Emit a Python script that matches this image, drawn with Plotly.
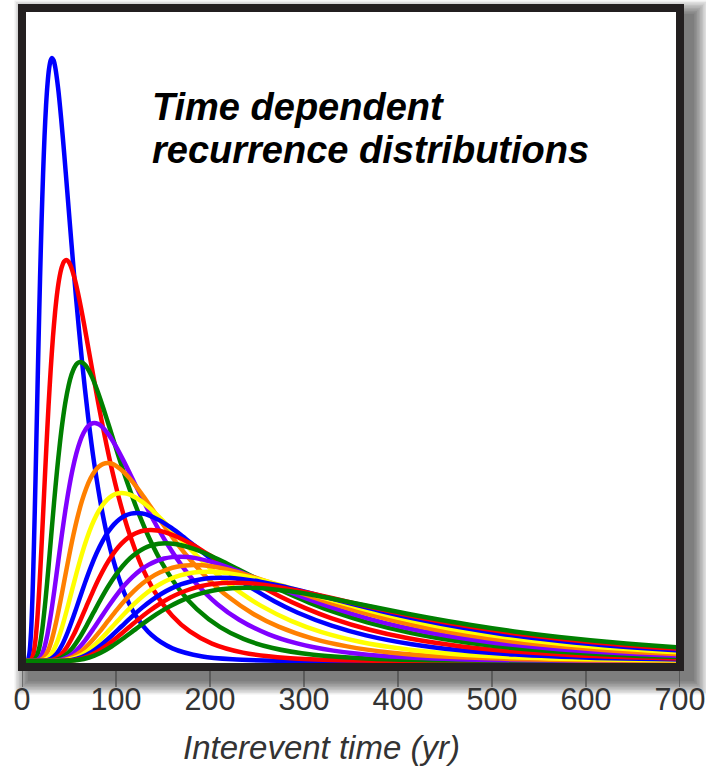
import plotly.graph_objects as go

# ---- data ----
# common curve shape: time as a fraction of the curve's peak time, and height as a fraction of its peak height
shape_ratio = [0.0, 0.1, 0.15, 0.2, 0.25, 0.3, 0.35, 0.4, 0.45, 0.5, 0.55, 0.6, 0.65, 0.7, 0.75,
               0.8, 0.85, 0.9, 0.95, 1.0, 1.05, 1.1, 1.2, 1.3, 1.4, 1.5, 1.65, 1.8, 2.0, 2.2, 2.4,
               2.7, 3.0, 3.4, 3.8, 4.3, 5.0, 6.0, 7.0, 8.5, 10.0, 12.0, 16.0, 24.0]
shape_rel = [0.0, 0.0, 0.0001, 0.002, 0.0138, 0.0475, 0.1096, 0.1977, 0.3035, 0.4171, 0.5296,
             0.6347, 0.7278, 0.8071, 0.8715, 0.9215, 0.958, 0.9823, 0.9958, 1.0, 0.9963, 0.986,
             0.9502, 0.9006, 0.843, 0.7817, 0.6891, 0.6007, 0.4946, 0.4038, 0.328, 0.2388, 0.1734,
             0.113, 0.0738, 0.0435, 0.021, 0.0075, 0.0028, 0.0006, 0.00015, 0.00002, 0.0, 0.0]

# peak time (yr) and peak height (relative density) of each of the 15 curves
curve_mode = [32, 47, 62, 77, 91, 106, 122, 137, 153, 168, 183, 198, 212, 225, 238]
curve_peak = [603, 401, 299, 238, 198, 168, 148, 131, 117.7, 104.3, 96, 89.3, 83.3, 78.3, 73.3]
curve_color = ["#0000ff", "#ff0000", "#008000", "#8000ff", "#ff8000", "#ffff00",
               "#0000ff", "#ff0000", "#008000", "#8000ff", "#ff8000", "#ffff00",
               "#0000ff", "#ff0000", "#008000"]

x_ticks = [0, 100, 200, 300, 400, 500, 600, 700]
x_title = "Interevent time (yr)"
title_lines = ["Time dependent", "recurrence distributions"]

# ---- figure ----
W, H = 706, 768
ML, MR, MT, MB = 22, 26, 8, 101
PW, PH = W - ML - MR, H - MT - MB


def px_x(p):
    return (p - ML) / PW


def px_y(p):
    return (H - MB - p) / PH


fig = go.Figure()
for m, pk, c in zip(curve_mode, curve_peak, curve_color):
    fig.add_trace(go.Scatter(
        x=[r * m for r in shape_ratio],
        y=[h * pk for h in shape_rel],
        mode="lines",
        line=dict(color=c, width=4.5, shape="spline", smoothing=0.8),
        hoverinfo="skip",
        showlegend=False,
    ))

shapes = []
# soft drop shadow (bottom/right of the frame)
fx0, fx1, fy0, fy1 = 18, 684, 4, 671
off = 10
n = 10
for i in range(n):
    s = 1.5 * i
    shapes.append(dict(type="rect", xref="paper", yref="paper",
                       x0=px_x(fx0 + off - s), x1=px_x(fx1 + off + s),
                       y0=px_y(fy1 + off + s), y1=px_y(fy0 + off - s),
                       fillcolor="rgba(0,0,0,0.065)", line=dict(width=0), layer="below"))
# white plot interior
shapes.append(dict(type="rect", xref="paper", yref="paper", x0=0, x1=1, y0=0, y1=1,
                   fillcolor="white", line=dict(width=0), layer="below"))
# tick marks below the frame, at the tick values
for v in x_ticks:
    shapes.append(dict(type="line", xref="x", yref="paper", x0=v, x1=v,
                       y0=px_y(670), y1=px_y(687),
                       line=dict(color="#444444", width=1.2), layer="above"))
# thick frame
shapes.append(dict(type="rect", xref="paper", yref="paper", x0=0, x1=1, y0=0, y1=1,
                   line=dict(color="#231f20", width=8), fillcolor="rgba(0,0,0,0)", layer="above"))

annotations = [
    dict(text="<b><i>%s</i></b>" % title_lines[0], xref="paper", yref="paper",
         x=px_x(150), y=px_y(107), xanchor="left", yanchor="middle", showarrow=False,
         font=dict(family="Liberation Sans, Arial, sans-serif", size=38, color="#000000")),
    dict(text="<b><i>%s</i></b>" % title_lines[1], xref="paper", yref="paper",
         x=px_x(150), y=px_y(150), xanchor="left", yanchor="middle", showarrow=False,
         font=dict(family="Liberation Sans, Arial, sans-serif", size=38, color="#000000")),
    dict(text="<i>%s</i>" % x_title, xref="paper", yref="paper",
         x=px_x(321), y=px_y(747), xanchor="center", yanchor="middle", showarrow=False,
         font=dict(family="Liberation Sans, Arial, sans-serif", size=33, color="#333333")),
]

fig.update_layout(
    width=W, height=H,
    margin=dict(l=ML, r=MR, t=MT, b=MB, pad=0, autoexpand=False),
    paper_bgcolor="white", plot_bgcolor="white",
    shapes=shapes, annotations=annotations,
    xaxis=dict(range=[0, 700], tickvals=x_ticks, ticktext=[str(v) for v in x_ticks],
               ticks="outside", ticklen=5, tickwidth=0.1, tickcolor="rgba(0,0,0,0)",
               ticklabeloverflow="allow", automargin=False,
               showgrid=False, zeroline=False, showline=False,
               tickfont=dict(family="Liberation Sans, Arial, sans-serif", size=30.5, color="#333333")),
    yaxis=dict(range=[-6, 653], showticklabels=False, showgrid=False, zeroline=False,
               showline=False, ticks="", automargin=False),
)

fig.write_html("out.html")
